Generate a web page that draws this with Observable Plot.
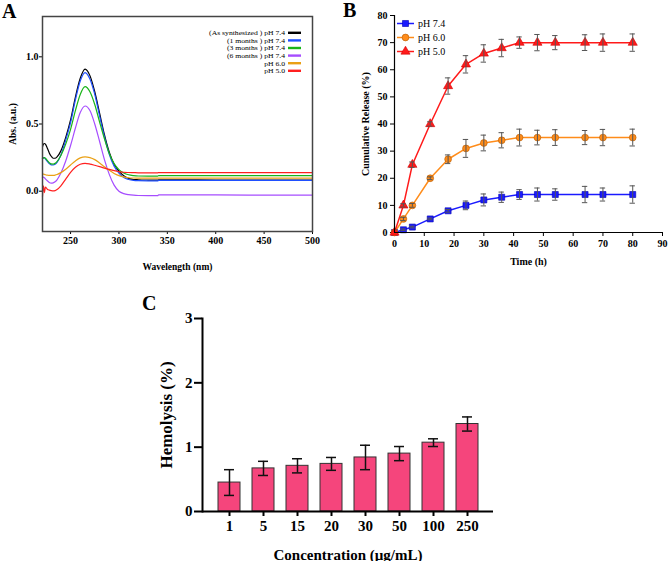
<!DOCTYPE html>
<html><head><meta charset="utf-8">
<script src="https://cdn.jsdelivr.net/npm/d3@7"></script>
<script src="https://cdn.jsdelivr.net/npm/@observablehq/plot@0.6"></script>
<style>
body{margin:0;background:#fff;}
#wrap{position:relative;width:669px;height:561px;overflow:hidden;background:#fff;}
#wrap > svg{position:absolute;}
</style></head><body><div id="wrap"></div>
<script>
// ---------- Panel A: UV-Vis spectra ----------
const wavelengths = [221,222,223,224,226,228,230,232,234,236,240,245,250,255,260,265,270,275,280,285,290,295,300,305,310,315,320,330,340,341,360,400,450,500];
const seriesNamesA = ["(As synthesized ) pH 7.4","(1 months ) pH 7.4","(3 months ) pH 7.4","(6 months ) pH 7.4","pH 6.0","pH 5.0"];
const seriesColorsA = ["#000000","#1f4fff","#18b418","#a64dff","#eaa015","#ff2020"];
const absAsSynth = [0.33,0.35,0.355,0.35,0.32,0.285,0.26,0.245,0.245,0.255,0.30,0.40,0.53,0.70,0.84,0.908,0.86,0.74,0.58,0.42,0.29,0.20,0.15,0.115,0.095,0.087,0.085,0.083,0.082,0.084,0.084,0.083,0.082,0.082];
const abs1m = [0.245,0.25,0.25,0.24,0.222,0.205,0.196,0.195,0.2,0.215,0.27,0.38,0.51,0.68,0.82,0.883,0.835,0.72,0.56,0.405,0.275,0.185,0.135,0.102,0.087,0.08,0.078,0.077,0.077,0.08,0.08,0.08,0.08,0.08];
const abs3m = [0.24,0.248,0.25,0.245,0.228,0.212,0.203,0.202,0.207,0.22,0.265,0.35,0.46,0.6,0.72,0.778,0.74,0.645,0.515,0.39,0.28,0.205,0.16,0.135,0.122,0.116,0.113,0.112,0.112,0.116,0.116,0.116,0.116,0.116];
const abs6m = [0.1,0.105,0.1,0.092,0.078,0.065,0.06,0.062,0.07,0.085,0.135,0.225,0.34,0.47,0.585,0.634,0.6,0.5,0.37,0.235,0.125,0.045,0.0,-0.018,-0.026,-0.03,-0.032,-0.033,-0.033,-0.028,-0.028,-0.028,-0.029,-0.03];
const absPH6 = [0.128,0.127,0.125,0.122,0.119,0.117,0.117,0.118,0.12,0.124,0.138,0.163,0.195,0.225,0.248,0.256,0.25,0.235,0.21,0.182,0.155,0.132,0.116,0.106,0.1,0.098,0.097,0.097,0.097,0.097,0.097,0.097,0.097,0.097];
const absPH5 = [-0.04,0.04,-0.01,0.03,0.015,0.008,0.004,0.002,0.004,0.012,0.04,0.09,0.14,0.178,0.2,0.207,0.202,0.193,0.183,0.172,0.162,0.153,0.146,0.141,0.139,0.138,0.137,0.137,0.137,0.138,0.138,0.138,0.138,0.138];
const xTicksA = [250,300,350,400,450,500];
const yTicksA = [0,0.5,1.0];

// ---------- Panel B: cumulative release ----------
const times = [0,3,6,12,18,24,30,36,42,48,54,64,70,80];
const seriesNamesB = ["pH 7.4","pH 6.0","pH 5.0"];
const seriesColorsB = ["#1a1aff","#ff8c1a","#ff1a1a"];
const seriesStrokeB = ["#0000b0","#b35900","#d00000"];
const seriesSymbolsB = ["square","circle","triangle"];
const rel74 = [0,1,2,5,8,10,12,13,14,14,14,14,14,14];
const err74 = [0,0.3,0.3,0.3,0.5,1.6,2.2,1.9,1.8,2.4,2.1,3.0,2.4,3.2];
const rel60 = [0,5,10,20,27,31,33,34,35,35,35,35,35,35];
const err60 = [0,0.6,0.7,0.5,1.6,3.3,2.9,2.8,3.1,2.7,2.9,2.6,3.0,3.1];
const rel50 = [0,10,25,40,54,62,66,68,70,70,70,70,70,70];
const err50 = [0,0.6,1.0,0.8,3.0,3.2,3.2,3.2,2.1,3.0,2.6,2.9,3.2,3.2];
const xTicksB = [0,10,20,30,40,50,60,70,80,90];
const yTicksB = [0,10,20,30,40,50,60,70,80];

// ---------- Panel C: hemolysis ----------
const concLabels = ["1","5","15","20","30","50","100","250"];
const hemolysis = [0.45,0.67,0.71,0.74,0.84,0.90,1.07,1.36];
const hemolysisErr = [0.2,0.11,0.11,0.10,0.19,0.11,0.06,0.11];
const yTicksC = [0,1,2,3];

const serif = "'Liberation Serif','DejaVu Serif',serif";
const wrap = document.getElementById("wrap");

function place(svg, left, top) {
  svg.style.left = left + "px";
  svg.style.top = top + "px";
  wrap.appendChild(svg);
}

// Panel A
const absSeries = [absAsSynth, abs1m, abs3m, abs6m, absPH6, absPH5];
const dataA = seriesNamesA.flatMap((name, s) => wavelengths.map((w, i) => ({w, v: absSeries[s][i], name})));
const plotA = Plot.plot({
  width: 330, height: 275,
  marginLeft: 42, marginRight: 18, marginTop: 16, marginBottom: 44,
  style: {fontFamily: serif, fontWeight: "bold", fontSize: "10px", color: "#000", background: "transparent"},
  x: {domain: [221, 500], ticks: xTicksA, tickSize: 3, tickPadding: 2, label: "Wavelength (nm)", labelAnchor: "center", labelOffset: 38, labelArrow: false},
  y: {domain: [-0.3, 1.3], ticks: yTicksA, tickFormat: d3.format(".1f"), tickSize: 3, tickPadding: 1, label: "Abs. (a.u.)", labelAnchor: "center", labelOffset: 33, labelArrow: false},
  color: {domain: seriesNamesA, range: seriesColorsA},
  marks: [
    Plot.line(dataA, {x: "w", y: "v", z: "name", stroke: "name", strokeWidth: 1.2, curve: "monotone-x"}),
    Plot.frame({stroke: "#444", strokeWidth: 1.5})
  ]
});
place(plotA, 0, 0);
d3.select(plotA).selectAll('g[aria-label="x-axis label"], g[aria-label="y-axis label"]').style("font-size", "9.5px");

// Panel B
const relSeries = [rel74, rel60, rel50];
const errSeries = [err74, err60, err50];
const dataB = seriesNamesB.flatMap((name, s) => times.map((t, i) => ({t, v: relSeries[s][i], e: errSeries[s][i], name})));
const errB = dataB.filter(d => d.e > 0);
const capHalf = 0.9;
const plotB = Plot.plot({
  width: 339, height: 275,
  marginLeft: 64, marginRight: 7, marginTop: 15, marginBottom: 43,
  style: {fontFamily: serif, fontWeight: "bold", fontSize: "10px", color: "#000", background: "transparent"},
  x: {domain: [0, 90], ticks: xTicksB, tickSize: 4, tickPadding: 3, label: "Time (h)", labelAnchor: "center", labelOffset: 32, labelArrow: false},
  y: {domain: [0, 80], ticks: yTicksB, tickSize: 4, tickPadding: 3, label: "Cumulative Release (%)", labelAnchor: "center", labelOffset: 33, labelArrow: false},
  color: {domain: seriesNamesB, range: seriesColorsB},
  symbol: {domain: seriesNamesB, range: seriesSymbolsB},
  marks: [
    Plot.line(dataB, {x: "t", y: "v", z: "name", stroke: "name", strokeWidth: 1.5}),
    Plot.dot(dataB, {x: "t", y: "v", symbol: "name", fill: "name", stroke: d => seriesStrokeB[seriesNamesB.indexOf(d.name)], strokeWidth: 0.6, r: 3.4}),
    Plot.ruleX(errB, {x: "t", y1: d => d.v - d.e, y2: d => d.v + d.e, stroke: "#555", strokeWidth: 1}),
    Plot.ruleY(errB, {y: d => d.v - d.e, x1: d => d.t - capHalf, x2: d => d.t + capHalf, stroke: "#555", strokeWidth: 1}),
    Plot.ruleY(errB, {y: d => d.v + d.e, x1: d => d.t - capHalf, x2: d => d.t + capHalf, stroke: "#555", strokeWidth: 1}),
    Plot.ruleX([0], {stroke: "#000", strokeWidth: 1.2}),
    Plot.ruleY([0], {stroke: "#000", strokeWidth: 1.2})
  ]
});
place(plotB, 330, 0);

// Panel C
const dataC = concLabels.map((c, i) => ({c, v: hemolysis[i], lo: hemolysis[i] - hemolysisErr[i], hi: hemolysis[i] + hemolysisErr[i]}));
const plotC = Plot.plot({
  width: 380, height: 271,
  marginLeft: 72, marginRight: 17, marginTop: 28, marginBottom: 50,
  style: {fontFamily: serif, fontWeight: "bold", fontSize: "15px", color: "#000", background: "transparent"},
  x: {type: "band", domain: concLabels, paddingInner: 0.36, paddingOuter: 0.34},
  y: {domain: [0, 3]},
  marks: [
    Plot.barY(dataC, {x: "c", y: "v", fill: "#F5457C", stroke: "#333", strokeWidth: 1}),
    Plot.ruleX(dataC, {x: "c", y1: "lo", y2: "hi", stroke: "#111", strokeWidth: 1.5}),
    Plot.tickY(dataC, {x: "c", y: "lo", stroke: "#111", strokeWidth: 1.5, insetLeft: 6, insetRight: 6}),
    Plot.tickY(dataC, {x: "c", y: "hi", stroke: "#111", strokeWidth: 1.5, insetLeft: 6, insetRight: 6}),
    Plot.axisX({tickSize: 5, tickPadding: 4, strokeWidth: 2, label: "Concentration (µg/mL)", labelAnchor: "center", labelOffset: 48, labelArrow: false}),
    Plot.axisY({ticks: yTicksC, tickFormat: d3.format("d"), tickSize: 8, tickPadding: 2, strokeWidth: 2, label: "Hemolysis (%)", labelAnchor: "center", labelOffset: 43, labelArrow: false}),
    Plot.ruleY([0], {stroke: "#000", strokeWidth: 2}),
    Plot.frame({anchor: "left", stroke: "#000", strokeWidth: 2})
  ]
});
place(plotC, 130, 290);
d3.select(plotC).selectAll('g[aria-label="y-axis label"]').style("font-size", "17px");

// Overlay: panel letters and legends
const ov = d3.create("svg").attr("width", 669).attr("height", 561)
  .style("left", "0px").style("top", "0px").style("pointer-events", "none")
  .attr("font-family", serif);
const letters = [["A", 2, 18], ["B", 343, 17], ["C", 142, 310]];
ov.selectAll("text.letter").data(letters).join("text")
  .attr("class", "letter").attr("x", d => d[1]).attr("y", d => d[2])
  .attr("font-size", 20).attr("font-weight", "bold").text(d => d[0]);

// Legend A
const legA = ov.append("g");
seriesNamesA.forEach((name, i) => {
  const y = 32.8 + i * 7.6;
  legA.append("g").attr("transform", `translate(285,${y + 2.3}) scale(1.18,1)`)
    .append("text").attr("text-anchor", "end").attr("font-size", 6.5).text(name);
  legA.append("line").attr("x1", 288).attr("x2", 301).attr("y1", y).attr("y2", y)
    .attr("stroke", seriesColorsA[i]).attr("stroke-width", 2.4);
});

// Legend B
const legB = ov.append("g");
const symGen = {square: d3.symbolSquare, circle: d3.symbolCircle, triangle: d3.symbolTriangle};
seriesNamesB.forEach((name, i) => {
  const y = 23.5 + i * 14;
  legB.append("line").attr("x1", 397).attr("x2", 414).attr("y1", y).attr("y2", y)
    .attr("stroke", seriesColorsB[i]).attr("stroke-width", 1.5);
  legB.append("path").attr("transform", `translate(405.5,${y})`)
    .attr("d", d3.symbol(symGen[seriesSymbolsB[i]], Math.PI * 3.4 * 3.4)())
    .attr("fill", seriesColorsB[i]).attr("stroke", seriesStrokeB[i]).attr("stroke-width", 0.6);
  legB.append("text").attr("x", 418).attr("y", y + 3.5).attr("font-size", 10).text(name);
});
wrap.appendChild(ov.node());
</script>
</body></html>
